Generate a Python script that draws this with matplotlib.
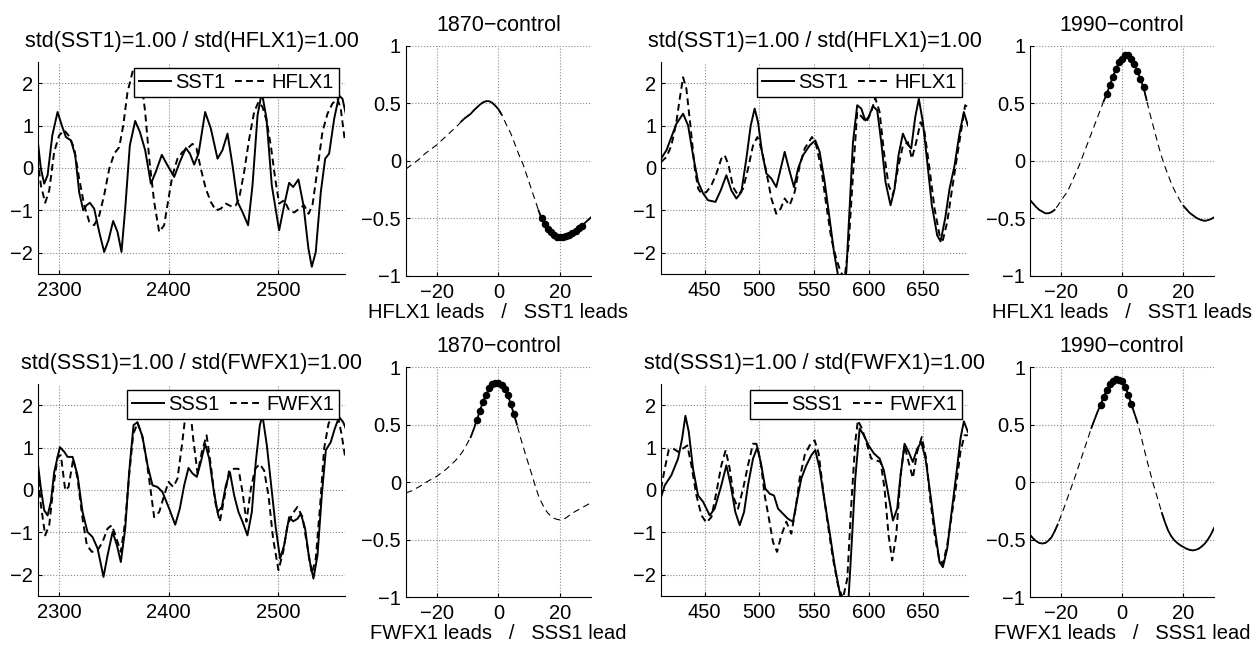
import numpy as np
import matplotlib.pyplot as plt
from matplotlib.ticker import FuncFormatter

plt.rcParams['font.family'] = ['Liberation Sans', 'DejaVu Sans']
plt.rcParams['font.size'] = 14.5
plt.rcParams['axes.titlesize'] = 15.5

# ---- time series, 1870-control (SST1 / HFLX1)
sst_1870_x = [2280.5, 2283.6, 2286.6, 2289.7, 2294, 2298.8, 2302.7, 2306.4, 2311, 2314.9,
              2318.5, 2322.2, 2325.2, 2328.3, 2332.2, 2336.8, 2341.3, 2345.3, 2349.5, 2353.5,
              2357.1, 2360.5, 2364.7, 2369.6, 2373.9, 2378.7, 2383.9, 2388.4, 2393.9, 2399.1,
              2405.2, 2410.3, 2415.8, 2419.5, 2423.4, 2427.4, 2433.4, 2438.6, 2444.7, 2449.2,
              2453.8, 2458.4, 2463, 2467.5, 2472.6, 2476.6, 2481.2, 2485.1, 2489.4, 2494.2,
              2500.9, 2505.5, 2510, 2513.7, 2518.5, 2523.1, 2527.6, 2530.7, 2534.3, 2538.9,
              2542.9, 2546.5, 2551.1, 2555.6, 2558.7, 2561.7]
sst_1870_y = [0.69, -0.02, -0.37, -0.17, 0.77, 1.32, 1.0, 0.73, 0.65, 0.30,
              -0.57, -1.0, -0.88, -0.82, -0.96, -1.51, -1.98, -1.70, -1.25, -1.51,
              -1.98, -0.96, 0.53, 1.11, 0.85, 0.42, -0.37, -0.09, 0.31, 0.06,
              -0.21, 0.14, 0.47, 0.34, 0.08, 0.34, 1.32, 0.93, 0.22, 0.42,
              0.81, 0.06, -0.80, -1.04, -1.35, -0.41, 1.24, 1.79, 1.16, -0.41,
              -1.47, -0.88, -0.35, -0.45, -0.27, -0.88, -1.90, -2.33, -1.98, -0.57,
              0.22, 0.34, 1.16, 1.71, 1.63, 1.28]
hflx_1870_x = [2280.5, 2283.6, 2287.5, 2291.2, 2295.7, 2300.3, 2304.9, 2309.4, 2314, 2318.5,
               2323.1, 2327.7, 2332.2, 2336.8, 2341.3, 2345.9, 2350.5, 2355, 2358.7, 2362.6,
               2367.5, 2372, 2375.7, 2378.7, 2382.4, 2386.9, 2391.5, 2396, 2400, 2403.6,
               2408.2, 2412.8, 2417.3, 2421.9, 2425.5, 2429.5, 2434, 2438.6, 2443.2, 2447.7,
               2452.3, 2458.4, 2461.4, 2464.4, 2469, 2473.6, 2478.1, 2482.1, 2485.7, 2489.4,
               2493.3, 2497.3, 2500.9, 2505.5, 2510, 2514.6, 2519.2, 2523.7, 2527.7, 2531.3,
               2535.9, 2540.4, 2545, 2549.5, 2554.1, 2557.1, 2560.8]
hflx_1870_y = [0.22, -0.41, -0.82, -0.53, 0.38, 0.77, 0.89, 0.75, 0.46, -0.25,
               -0.88, -1.27, -1.35, -1.12, -0.64, -0.02, 0.34, 0.49, 1.0, 1.79,
               2.3, 2.25, 1.95, 1.32, 0.22, -0.80, -1.51, -1.35, -0.72, -0.17,
               0.22, 0.38, 0.46, 0.57, 0.46, -0.02, -0.49, -0.80, -1.0, -0.96,
               -0.84, -0.92, -0.88, -0.72, -0.09, 0.69, 1.32, 1.56, 1.44, 1.12,
               0.53, -0.25, -0.84, -0.76, -1.0, -1.05, -0.96, -0.88, -1.08, -0.88,
               -0.02, 0.85, 1.28, 1.52, 1.63, 1.40, 0.65]

# ---- time series, 1990-control (SST1 / HFLX1)
sst_1990_x = [410, 415, 419.5, 424, 430.2, 434.8, 439.3, 443.9, 448.5, 453,
              459.8, 464.6, 469.8, 474.4, 479, 483.5, 488.1, 492.1, 495.7, 498.8,
              502.4, 506.4, 511, 515.5, 519.5, 523.2, 527.1, 531.7, 535.4, 540,
              546, 551.2, 555.2, 559.8, 564.3, 568.3, 572, 575.5, 579.6, 582.6,
              585.7, 589.6, 593.3, 597, 600, 604, 607.9, 611.6, 615.5, 620.1,
              623.8, 627.4, 631.4, 635.4, 639, 642.7, 646, 649.7, 653.7, 657.9,
              662.8, 665.9, 670.1, 674.1, 678.7, 683.2, 687.2, 690.9]
sst_1990_y = [0.22, 0.42, 0.73, 1.04, 1.28, 1.0, 0.30, -0.33, -0.60, -0.76,
              -0.80, -0.53, -0.17, -0.53, -0.72, -0.57, 0.22, 1.0, 1.40, 1.08,
              0.38, -0.13, -0.25, -0.45, -0.02, 0.38, -0.02, -0.45, -0.02, 0.30,
              0.53, 0.65, 0.38, -0.33, -1.19, -1.98, -2.53, -2.95, -2.45, -0.96,
              0.61, 1.48, 1.40, 1.12, 1.20, 1.46, 1.36, 0.61, -0.33, -0.88,
              -0.49, 0.30, 0.81, 0.57, 0.46, 1.20, 1.63, 1.08, 0.14, -0.88,
              -1.59, -1.73, -1.19, -0.49, 0.06, 0.81, 1.32, 1.0]
hflx_1990_x = [410, 415, 419.5, 424, 427.1, 430.2, 433.2, 436.9, 440.9, 444,
               447, 451.5, 456.1, 460.7, 465.2, 468.3, 471.9, 475.9, 480.5, 485.1,
               489.6, 494.2, 498.2, 501.8, 506.4, 511, 515.5, 519.5, 523.2, 527.7,
               532.3, 536.9, 541.5, 548.2, 552.1, 556.7, 561.3, 565.9, 570.4, 574.4,
               578, 581.7, 585.7, 589.6, 593.9, 597.9, 602.4, 606.1, 610.1, 614,
               618.3, 622.3, 626.8, 631.4, 636, 639.6, 643.6, 647.6, 651.2, 655.8,
               660.4, 665, 668, 672, 675.6, 680.2, 684.8, 688.4, 690.9]
hflx_1990_y = [0.14, 0.26, 0.53, 1.08, 1.63, 2.14, 1.87, 1.0, -0.02, -0.49,
               -0.60, -0.57, -0.41, -0.13, 0.22, 0.30, 0.06, -0.45, -0.64, -0.49,
               -0.02, 0.53, 0.73, 0.46, -0.09, -0.72, -1.08, -0.96, -0.72, -0.88,
               -0.57, 0.06, 0.46, 0.73, 0.53, -0.02, -0.88, -1.67, -2.14, -2.45,
               -2.6, -1.82, -0.17, 1.32, 1.20, 1.08, 1.32, 1.65, 1.32, 0.38,
               -0.41, -0.64, -0.02, 0.53, 0.61, 0.22, 0.61, 1.08, 0.85, -0.02,
               -0.96, -1.59, -1.70, -1.27, -0.64, 0.14, 0.89, 1.48, 1.44]

# ---- time series, 1870-control (SSS1 / FWFX1)
sss_1870_x = [2280.5, 2283.6, 2286.6, 2289.7, 2292.7, 2295.7, 2300.9, 2304.9, 2307.9, 2312.5,
              2317, 2321.6, 2326.1, 2330.7, 2335.3, 2340.7, 2344.4, 2349, 2352.9, 2356.5,
              2360.5, 2364.1, 2368.1, 2371.7, 2376.3, 2380.9, 2385.4, 2390, 2394.5, 2400.6,
              2406.1, 2410.3, 2414.3, 2418.2, 2421.9, 2425.8, 2429.5, 2433.4, 2437.1, 2441,
              2444.7, 2448.6, 2452.3, 2456, 2459.9, 2463.8, 2467.5, 2472, 2476, 2479.6,
              2483.3, 2485.7, 2489.7, 2493.3, 2497.9, 2501.8, 2505.5, 2510, 2513.7, 2517.6,
              2520.7, 2524.6, 2528.3, 2532.2, 2535.9, 2539.8, 2543.5, 2548, 2551.7, 2555.6,
              2559.3, 2561.7]
sss_1870_y = [0.70, 0.03, -0.48, -0.60, -0.28, 0.42, 1.01, 0.90, 0.78, 0.78,
              0.35, -0.52, -0.99, -1.11, -1.38, -2.05, -1.54, -0.99, -1.30, -1.70,
              -0.91, 0.42, 1.53, 1.60, 1.25, 0.58, 0.11, 0.07, -0.05, -0.44,
              -0.82, -0.44, 0.11, 0.52, 0.39, 0.31, 0.66, 1.09, 0.74, 0.03,
              -0.52, -0.40, 0.11, 0.42, -0.13, -0.52, -0.75, -1.07, -0.52, 0.66,
              1.53, 1.76, 1.05, 0.19, -0.91, -1.62, -1.30, -0.64, -0.74, -0.68,
              -0.56, -0.91, -1.62, -2.09, -1.54, -0.13, 0.94, 1.13, 1.45, 1.72,
              1.60, 1.45]
fwfx_1870_x = [2280.5, 2283.6, 2287.5, 2291.2, 2294.8, 2298.8, 2301.8, 2305.8, 2308.8, 2313.1,
               2317, 2321.6, 2325.5, 2330.1, 2335.3, 2339.8, 2344.4, 2348.3, 2352.6, 2356.5,
               2360.5, 2364.1, 2367.8, 2371.7, 2375.7, 2380.2, 2383.9, 2386.9, 2391.5, 2396,
               2400, 2404.3, 2408.2, 2412.2, 2415.8, 2419.5, 2422.5, 2426.5, 2430.4, 2434.7,
               2438.6, 2442.6, 2446.8, 2450.8, 2455.3, 2459.9, 2463.8, 2467.5, 2471.1, 2475.1,
               2479, 2483.3, 2487.2, 2491.2, 2495.4, 2500.3, 2504.6, 2508.5, 2513.1, 2517.6,
               2522.2, 2526.7, 2530.7, 2534.3, 2538.3, 2541.9, 2545.9, 2550.2, 2554.1, 2558,
               2561.1]
fwfx_1870_y = [0.50, -0.36, -1.07, -0.83, 0.03, 0.78, 0.82, -0.01, 0.07, 0.74,
               0.27, -0.68, -1.30, -1.46, -1.42, -1.23, -0.91, -0.83, -1.15, -1.46,
               -0.75, 0.35, 1.32, 1.57, 1.32, 0.66, -0.05, -0.64, -0.52, -0.13,
               0.19, 0.07, 0.27, 1.05, 1.84, 2.0, 1.21, 0.39, 0.90, 1.29,
               0.58, -0.28, -0.75, -0.20, 0.46, 0.50, 0.50, -0.05, -0.75, 0.03,
               0.50, 0.61, 0.46, -0.13, -1.15, -1.89, -1.46, -0.83, -0.56, -0.40,
               -0.64, -1.34, -1.97, -1.62, -0.36, 0.97, 1.56, 1.80, 1.80, 1.29,
               0.78]

# ---- time series, 1990-control (SSS1 / FWFX1)
sss_1990_x = [410, 413.4, 419.5, 425.6, 429.3, 432.3, 435.4, 439.3, 443.9, 448.5,
              454.6, 459.1, 465.2, 469.8, 473.8, 478, 482, 486, 489.6, 494.2,
              498.2, 501.8, 505.5, 509.5, 513.4, 517.1, 521.6, 526.2, 530.8, 534.8,
              538.4, 543, 547.6, 551.2, 555.2, 559.8, 564.3, 568.9, 573.5, 576.5,
              581.1, 584.1, 587.8, 591.8, 595.7, 600, 604.9, 610.1, 614, 617.7,
              622.3, 626.2, 629.3, 632.9, 636.6, 640.5, 644.5, 648.2, 652.1, 656.7,
              661, 664.9, 668, 672, 675.6, 680.2, 684.1, 687.2, 690.9]
sss_1990_y = [-0.17, 0.11, 0.35, 0.74, 1.21, 1.75, 1.37, 0.50, -0.13, -0.28,
              -0.60, -0.44, 0.11, 0.58, 0.11, -0.52, -0.83, -0.52, 0.11, 0.74,
              1.01, 0.58, 0.03, -0.09, -0.13, -0.44, -0.56, -0.68, -0.75, -0.20,
              0.27, 0.58, 0.82, 0.94, 0.50, -0.28, -0.99, -1.78, -2.41, -2.9,
              -2.8, -1.46, 0.27, 1.45, 1.29, 1.05, 0.86, 0.74, 0.46, -0.05,
              -0.72, -0.44, 0.35, 1.09, 0.90, 0.66, 0.97, 1.13, 0.74, -0.13,
              -0.99, -1.70, -1.82, -1.38, -0.60, 0.35, 1.21, 1.62, 1.37]
fwfx_1990_x = [410, 413.4, 417, 421, 425.6, 430.2, 434.1, 437.8, 442.4, 447,
               451.5, 456.1, 460.7, 465.2, 469.2, 472.9, 476.8, 480.5, 485.1, 489.6,
               494.2, 497.3, 501.2, 504.9, 508.8, 512.5, 516.2, 520.1, 524.7, 529.3,
               533.2, 536.9, 541.5, 546, 550.6, 554.3, 558.2, 562.8, 567.4, 572,
               576.5, 580.5, 584.1, 587.8, 590.2, 593.9, 597.9, 602.4, 607, 611,
               614.6, 618.3, 621.6, 625.3, 629.3, 632.9, 636.6, 640.5, 644.5, 648.7,
               652.7, 656.7, 661, 664.9, 668, 672, 675.6, 680.2, 684.1, 687.8,
               690.9]
fwfx_1990_y = [0.03, 0.50, 0.94, 0.98, 0.90, 0.98, 1.05, 0.58, -0.13, -0.60,
               -0.77, -0.64, -0.05, 0.58, 0.94, 0.50, -0.20, -0.44, 0.03, 0.58,
               1.09, 1.09, 0.66, -0.13, -0.68, -1.23, -1.46, -1.07, -0.75, -1.03,
               -0.44, 0.27, 0.82, 1.05, 1.17, 0.86, 0.03, -0.83, -1.62, -2.25,
               -2.56, -2.09, -0.36, 1.13, 1.64, 1.45, 1.13, 0.74, 0.70, 0.66,
               0.03, -1.07, -1.66, -1.07, 0.35, 1.05, 0.66, 0.28, 0.90, 1.25,
               0.74, -0.28, -1.15, -1.66, -1.74, -1.30, -0.68, 0.11, 0.90, 1.29,
               1.29]

# ---- lagged correlations, lags -30..30
lags = np.arange(-30, 31)
corr_sst_1870 = [-0.07, -0.05, -0.03, -0.01, 0.01, 0.03, 0.06, 0.08, 0.10, 0.12,
                 0.14, 0.165, 0.19, 0.215, 0.24, 0.265, 0.29, 0.315, 0.345, 0.37,
                 0.39, 0.41, 0.44, 0.465, 0.49, 0.51, 0.52, 0.52, 0.505, 0.48,
                 0.45, 0.405, 0.35, 0.29, 0.24, 0.17, 0.10, 0.03, -0.03, -0.11,
                 -0.19, -0.27, -0.35, -0.43, -0.50, -0.55, -0.59, -0.62, -0.645, -0.66,
                 -0.665, -0.665, -0.655, -0.64, -0.625, -0.605, -0.585, -0.565, -0.54, -0.515,
                 -0.49]
corr_sst_1990 = [-0.34, -0.37, -0.40, -0.425, -0.44, -0.455, -0.455, -0.445, -0.425, -0.39,
                 -0.35, -0.31, -0.275, -0.22, -0.16, -0.10, -0.04, 0.03, 0.10, 0.17,
                 0.24, 0.31, 0.38, 0.45, 0.52, 0.58, 0.66, 0.73, 0.80, 0.86,
                 0.89, 0.92, 0.92, 0.89, 0.84, 0.78, 0.71, 0.64, 0.53, 0.42,
                 0.32, 0.22, 0.12, 0.03, -0.05, -0.12, -0.19, -0.25, -0.30, -0.35,
                 -0.39, -0.42, -0.45, -0.47, -0.49, -0.505, -0.515, -0.52, -0.515, -0.505,
                 -0.49]
corr_sss_1870 = [-0.095, -0.085, -0.075, -0.06, -0.045, -0.03, -0.01, 0.005, 0.02, 0.035,
                 0.05, 0.07, 0.09, 0.11, 0.135, 0.16, 0.185, 0.215, 0.25, 0.29,
                 0.34, 0.39, 0.46, 0.54, 0.62, 0.70, 0.76, 0.815, 0.85, 0.865,
                 0.86, 0.845, 0.81, 0.755, 0.68, 0.59, 0.50, 0.40, 0.31, 0.22,
                 0.135, 0.05, -0.04, -0.12, -0.18, -0.23, -0.27, -0.295, -0.315, -0.325,
                 -0.33, -0.325, -0.31, -0.29, -0.27, -0.255, -0.24, -0.225, -0.21, -0.195,
                 -0.18]
corr_sss_1990 = [-0.46, -0.49, -0.515, -0.53, -0.535, -0.53, -0.51, -0.48, -0.43, -0.37,
                 -0.30, -0.23, -0.155, -0.08, -0.005, 0.07, 0.15, 0.23, 0.31, 0.39,
                 0.47, 0.54, 0.61, 0.67, 0.74, 0.80, 0.85, 0.88, 0.895, 0.89,
                 0.875, 0.83, 0.76, 0.68, 0.60, 0.52, 0.42, 0.31, 0.20, 0.10,
                 0.0, -0.09, -0.18, -0.27, -0.35, -0.42, -0.47, -0.505, -0.53, -0.55,
                 -0.565, -0.58, -0.59, -0.595, -0.59, -0.58, -0.56, -0.535, -0.50, -0.455,
                 -0.40]

# significant lag ranges (solid line) and highly significant ones (dots)
solid_sst_1870 = [(-12, 1), (13, 30)]
dots_sst_1870 = (14, 27)
solid_sst_1990 = [(-30, -22), (-6, 8), (20, 30)]
dots_sst_1990 = (-5, 7)
solid_sss_1870 = [(-9, 6)]
dots_sss_1870 = (-7, 5)
solid_sss_1990 = [(-30, -21), (-10, 5), (13, 30)]
dots_sss_1990 = (-7, 3)

fig = plt.figure(figsize=(12.56, 6.45), dpi=100)


def style(ax):
    ax.spines['top'].set_visible(False)
    ax.spines['right'].set_visible(False)
    ax.tick_params(direction='in', length=3, top=False, right=False)
    ax.tick_params(axis='x', pad=5)
    ax.grid(True, linestyle=':', color='#888888', linewidth=0.8)
    ax.set_axisbelow(True)


def timeseries(rect, x1, y1, x2, y2, names, xlim, xticks, title):
    ax = fig.add_axes(rect)
    ax.plot(x1, y1, '-', color='k', lw=1.4, label=names[0], solid_joinstyle='round')
    ax.plot(x2, y2, '--', color='k', lw=1.4, dashes=(3.5, 2.2), label=names[1])
    ax.set_xlim(xlim)
    ax.set_ylim(-2.5, 2.5)
    ax.set_xticks(xticks)
    ax.set_yticks([-2, -1, 0, 1, 2])
    style(ax)
    ax.set_title(title, pad=11)
    leg = ax.legend(loc='upper right', ncol=2, fancybox=False, framealpha=1,
                    edgecolor='k', handlelength=1.6, handletextpad=0.2,
                    columnspacing=0.5, borderpad=0.25, borderaxespad=0.3,
                    fontsize=14.5)
    leg.get_frame().set_linewidth(1.0)
    return ax


def lagcorr(rect, r, solid, dots, xlabel, title):
    ax = fig.add_axes(rect)
    r = np.array(r)
    ax.plot(lags, r, '--', color='k', lw=0.8, dashes=(6, 4))
    for a, b in solid:
        m = (lags >= a) & (lags <= b)
        ax.plot(lags[m], r[m], '-', color='k', lw=1.3)
    m = (lags >= dots[0]) & (lags <= dots[1])
    ax.plot(lags[m], r[m], 'o', color='k', ms=4.4)
    ax.set_xlim(-30, 30)
    ax.set_ylim(-1, 1)
    ax.set_xticks([-20, 0, 20])
    ax.set_yticks([-1, -0.5, 0, 0.5, 1])
    ax.yaxis.set_major_formatter(FuncFormatter(lambda v, p: ('%g' % v).replace('-', '\u2212')))
    style(ax)
    ax.set_title(title, pad=11)
    ax.set_xlabel(xlabel, labelpad=1)
    return ax


top_ts, h_ts = 0.5752, 0.3287
top_c, h_c = 0.5721, 0.3566
bot_ts, bot_c = 0.076, 0.0744

timeseries([0.0303, top_ts, 0.2444, h_ts], sst_1870_x, sst_1870_y, hflx_1870_x, hflx_1870_y,
           ['SST1', 'HFLX1'], (2281, 2561), [2300, 2400, 2500],
           'std(SST1)=1.00 / std(HFLX1)=1.00')
lagcorr([0.3232, top_c, 0.1473, h_c], corr_sst_1870, solid_sst_1870, dots_sst_1870,
        'HFLX1 leads   /   SST1 leads', '1870\u2212control')
timeseries([0.5263, top_ts, 0.2444, h_ts], sst_1990_x, sst_1990_y, hflx_1990_x, hflx_1990_y,
           ['SST1', 'HFLX1'], (410, 691), [450, 500, 550, 600, 650],
           'std(SST1)=1.00 / std(HFLX1)=1.00')
lagcorr([0.8201, top_c, 0.1465, h_c], corr_sst_1990, solid_sst_1990, dots_sst_1990,
        'HFLX1 leads   /   SST1 leads', '1990\u2212control')

timeseries([0.0303, bot_ts, 0.2444, h_ts], sss_1870_x, sss_1870_y, fwfx_1870_x, fwfx_1870_y,
           ['SSS1', 'FWFX1'], (2281, 2561), [2300, 2400, 2500],
           'std(SSS1)=1.00 / std(FWFX1)=1.00')
lagcorr([0.3232, bot_c, 0.1473, h_c], corr_sss_1870, solid_sss_1870, dots_sss_1870,
        'FWFX1 leads   /   SSS1 lead', '1870\u2212control')
timeseries([0.5263, bot_ts, 0.2444, h_ts], sss_1990_x, sss_1990_y, fwfx_1990_x, fwfx_1990_y,
           ['SSS1', 'FWFX1'], (410, 691), [450, 500, 550, 600, 650],
           'std(SSS1)=1.00 / std(FWFX1)=1.00')
lagcorr([0.8201, bot_c, 0.1465, h_c], corr_sss_1990, solid_sss_1990, dots_sss_1990,
        'FWFX1 leads   /   SSS1 lead', '1990\u2212control')

fig.savefig('out.png', dpi=100, facecolor='white')
